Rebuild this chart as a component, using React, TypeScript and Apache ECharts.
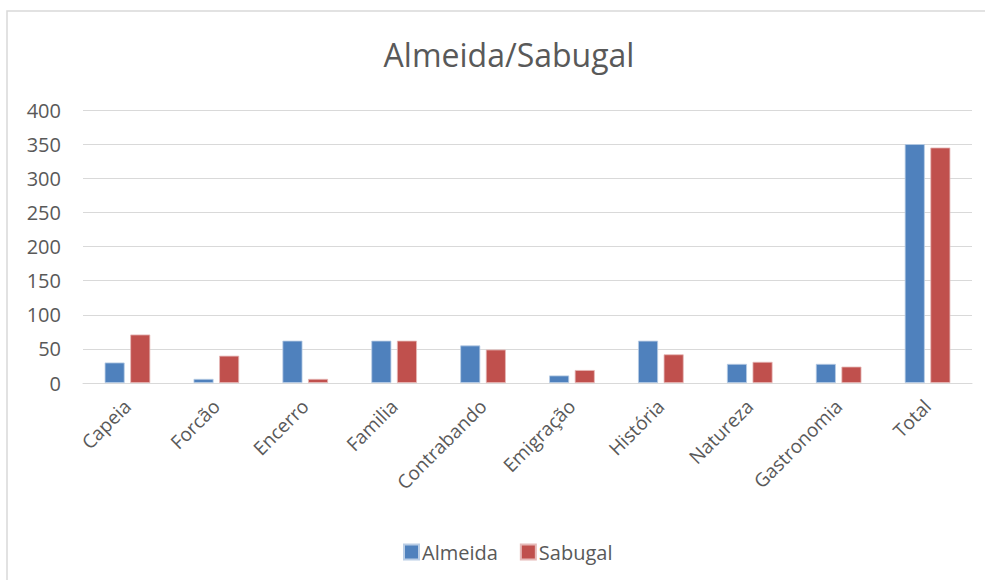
import React, { useEffect, useRef } from "react";
import * as echarts from "echarts";

const categories = ["Capeia", "Forcão", "Encerro", "Familia", "Contrabando", "Emigração", "História", "Natureza", "Gastronomia", "Total"];
const almeida = [30, 6, 62, 62, 55, 11, 62, 28, 28, 350];
const sabugal = [71, 40, 6, 62, 49, 19, 42, 31, 24, 345];
const yTicks = { min: 0, max: 400, interval: 50 };

const FONT = "Open Sans";

export default function App() {
  const ref = useRef<HTMLDivElement>(null);
  useEffect(() => {
    if (!ref.current) return;
    const chart = echarts.init(ref.current, null, { renderer: "svg" });
    chart.setOption({
      animation: false,
      backgroundColor: "#ffffff",
      textStyle: { fontFamily: FONT },
      graphic: [
        {
          type: "rect",
          shape: { x: 7, y: 11, width: 1000, height: 580 },
          style: { fill: "none", stroke: "#d9d9d9", lineWidth: 1.5 },
          silent: true,
        },
      ],
      title: {
        text: "Almeida/Sabugal",
        left: 504,
        top: 33,
        textAlign: "center",
        textStyle: { fontFamily: FONT, fontSize: 32, fontWeight: "normal", color: "#595959" },
      },
      legend: {
        left: 398,
        top: 537,
        itemWidth: 15,
        itemHeight: 15,
        itemGap: 22,
        icon: "rect",
        textStyle: { fontFamily: FONT, fontSize: 20, color: "#595959", padding: [0, 0, 0, -2] },
        data: ["Almeida", "Sabugal"],
      },
      grid: { left: 83, right: 13, top: 110, bottom: 197, containLabel: false },
      xAxis: {
        type: "category",
        data: categories,
        axisLine: { show: true, lineStyle: { color: "#d9d9d9", width: 1 } },
        axisTick: { show: false },
        axisLabel: { rotate: 45, fontFamily: FONT, fontSize: 19, color: "#595959", margin: 20, interval: 0 },
      },
      yAxis: {
        type: "value",
        min: yTicks.min,
        max: yTicks.max,
        interval: yTicks.interval,
        axisLine: { show: false },
        axisTick: { show: false },
        splitLine: { lineStyle: { color: "#d9d9d9", width: 1 } },
        axisLabel: { fontFamily: FONT, fontSize: 20, color: "#595959", margin: 22 },
      },
      series: [
        {
          name: "Almeida",
          type: "bar",
          data: almeida,
          barWidth: "22.5%",
          barGap: "28%",
          itemStyle: { color: "#4f81bd", borderColor: "#b9cde5", borderWidth: 0.8 },
        },
        {
          name: "Sabugal",
          type: "bar",
          data: sabugal,
          barWidth: "22.5%",
          itemStyle: { color: "#c0504d", borderColor: "#e6b9b8", borderWidth: 0.8 },
        },
      ],
    });
    return () => chart.dispose();
  }, []);
  return <div ref={ref} style={{ position: "fixed", left: 0, top: 0, width: 985, height: 580 }} />;
}
